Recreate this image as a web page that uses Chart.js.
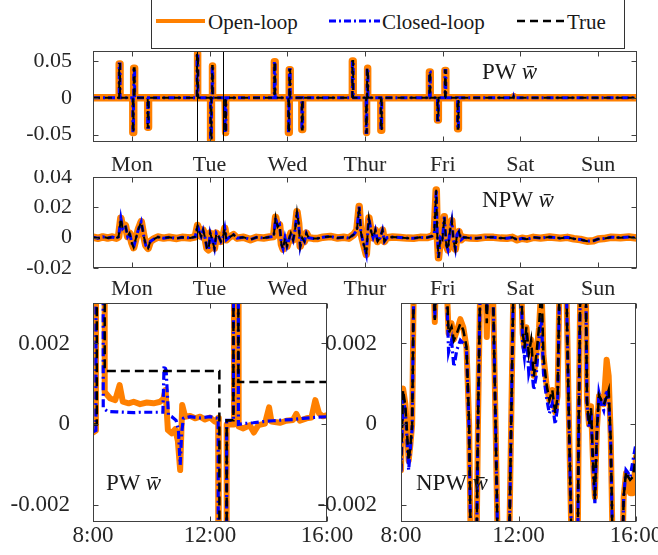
<!DOCTYPE html>
<html>
<head>
<meta charset="utf-8">
<script src="https://cdn.jsdelivr.net/npm/chart.js@4.4.1/dist/chart.umd.min.js"></script>
<style>
  body { margin: 0; background: #fff; }
  #fig { position: relative; width: 658px; height: 555px; overflow: hidden; background: #fff;
         font-family: "Liberation Serif", "Times New Roman", serif; color: #1a1a1a; }
  canvas { position: absolute; }
  .txt { position: absolute; white-space: nowrap; line-height: 1; }
  .leg { font-size: 21px; top: 12px; }
  .ann { font-size: 23px; }
  .ann i { font-style: italic; }
</style>
</head>
<body>
<div id="fig">
  <div style="position:absolute;left:151px;top:-5px;width:472px;height:52px;border:1px solid #333;background:#fff"></div>
  <svg style="position:absolute;left:0;top:0" width="658" height="50">
    <line x1="156" y1="21" x2="205" y2="21" stroke="#ff8000" stroke-width="4"/>
    <line x1="329" y1="21" x2="380" y2="21" stroke="#0000ff" stroke-width="3" stroke-dasharray="7 3 2 3"/>
    <line x1="517" y1="21" x2="565" y2="21" stroke="#000" stroke-width="2.5" stroke-dasharray="8 5"/>
  </svg>
  <span class="txt leg" style="left:208px">Open-loop</span>
  <span class="txt leg" style="left:382px">Closed-loop</span>
  <span class="txt leg" style="left:567px">True</span>

  <canvas id="weekPW" width="658" height="135" style="left:0;top:45px"></canvas>
  <canvas id="weekNPW" width="658" height="130" style="left:0;top:170px"></canvas>
  <canvas id="zoomPW" width="370" height="259" style="left:0;top:296px"></canvas>
  <canvas id="zoomNPW" width="368" height="259" style="left:290px;top:296px"></canvas>

  <span class="txt ann" style="left:482px;top:60px">PW <i>w̄</i></span>
  <span class="txt ann" style="left:482px;top:188px">NPW <i>w̄</i></span>
  <span class="txt ann" style="left:106px;top:471px">PW <i>w̄</i></span>
  <span class="txt ann" style="left:416px;top:471px">NPW <i>w̄</i></span>
</div>

<script>
// ---- axes ----
const dayTicks = [12, 36, 60, 84, 108, 132, 156];
const dayNames = ["Mon", "Tue", "Wed", "Thur", "Fri", "Sat", "Sun"];
const zoomWindow = [32, 40]; // Tue 8:00 - 16:00
const hourTicks = [8, 12, 16];
const hourNames = ["8:00", "12:00", "16:00"];
const pwWeekTicks = [-0.05, 0, 0.05];
const pwWeekTickNames = ["-0.05", "0", "0.05"];
const npwWeekTicks = [-0.02, 0, 0.02, 0.04];
const npwWeekTickNames = ["-0.02", "0", "0.02", "0.04"];
const zoomTicks = [-0.002, 0, 0.002];
const zoomTickNames = ["-0.002", "0", "0.002"];

// ---- week, PW (hour, value) ----
const pwWeek = [
  [0, 0], [8.1, 0], [8.1, 0.046], [8.35, 0.046], [8.35, 0],
  [12.3, 0], [12.3, -0.047], [12.5, -0.047], [12.5, 0], [12.6, 0], [12.6, 0.040], [12.85, 0.040], [12.85, 0],
  [16.9, 0], [16.9, -0.040], [17.15, -0.040], [17.15, 0],
  [32.13, 0], [32.13, 0.060], [32.4, 0.060], [32.4, 0],
  [36.32, 0], [36.32, -0.057], [36.57, -0.057], [36.57, 0], [36.8, 0], [36.8, 0.043], [36.97, 0.043], [36.97, 0],
  [40.8, 0], [40.8, -0.047], [41.05, -0.047], [41.05, 0],
  [56.0, 0], [56.0, 0.049], [56.25, 0.049], [56.25, 0],
  [60.35, 0], [60.35, -0.047], [60.55, -0.047], [60.55, 0], [60.65, 0], [60.65, 0.038], [60.9, 0.038], [60.9, 0],
  [64.5, 0], [64.5, -0.043], [64.75, -0.043], [64.75, 0],
  [80.1, 0], [80.1, 0.050], [80.35, 0.050], [80.35, 0],
  [84.35, 0], [84.35, -0.047], [84.55, -0.047], [84.55, 0], [84.65, 0], [84.65, 0.040], [84.9, 0.040], [84.9, 0],
  [88.9, 0], [88.9, -0.044], [89.15, -0.044], [89.15, 0],
  [103.9, 0], [103.9, 0.035], [104.15, 0.035], [104.15, 0],
  [106.4, 0], [106.4, -0.030], [106.65, -0.030], [106.65, 0],
  [108.7, 0], [108.7, 0.037], [108.95, 0.037], [108.95, 0],
  [112.6, 0], [112.6, -0.042], [112.85, -0.042], [112.85, 0],
  [129.8, 0], [129.9, 0.0015], [130.0, 0],
  [168, 0]
];

// ---- week, NPW (hour, value) ----
const npwWeek = [
  [0, 0.0003], [1.5, -0.0004], [3, 0.0005], [4.5, -0.0002], [6, 0.0004], [7.2, -0.0003], [7.9, 0.0005],
  [8.6, 0.0128], [9.15, 0.006], [10.0, 0.008], [10.7, 0.0008], [11.3, 0.003], [12.0, -0.0035], [12.55, -0.0065],
  [13.3, 0.0], [14.1, 0.006], [14.9, 0.0105], [15.6, 0.002], [16.3, -0.005], [17.0, -0.007], [17.7, -0.0025],
  [18.7, -0.001], [20, 0.0004], [21.8, -0.0003], [23.5, 0.0003], [25.9, -0.0005], [27.5, 0.0002], [30.1, -0.0002],
  [31.6, 0.0006], [32.3, 0.008], [32.8, 0.004], [33.4, 0.0008], [34.0, 0.005], [34.6, 0.0], [35.2, -0.007],
  [35.7, -0.008], [36.2, 0.003], [36.8, -0.0013], [37.5, -0.007], [38.1, 0.003], [38.8, 0.0008], [39.5, -0.0025],
  [40.1, 0.0], [40.7, 0.0062], [41.2, -0.0014], [41.9, 0.0], [43.4, 0.002], [44.5, -0.0003], [46.5, 0.0003],
  [48.6, -0.0013], [50.5, 0.0002], [52.7, -0.0002], [54.5, 0.0004], [55.8, 0.0008], [56.4, 0.0135], [57.0, 0.007],
  [57.6, 0.0085], [58.2, -0.0045], [58.7, -0.0075], [59.3, 0.0], [59.9, -0.0057], [60.5, -0.0014], [61.1, 0.003],
  [61.8, -0.0015], [62.4, 0.005], [63.0, 0.017], [63.5, 0.0095], [64.0, -0.0057], [64.6, 0.0], [65.3, -0.0025],
  [65.9, 0.003], [66.6, 0.0], [68, -0.0005], [69.2, -0.0006], [71, 0.0003], [73.3, 0.0008], [75.5, -0.0002],
  [77.4, 0.0003], [79, -0.0003], [80.5, 0.002], [81.5, 0.005], [82.2, 0.0205], [82.7, 0.004], [83.2, -0.001],
  [83.8, -0.006], [84.4, -0.011], [84.8, 0.002], [85.2, 0.013], [85.9, 0.004], [86.5, 0.0], [87.2, 0.005],
  [87.9, -0.0025], [88.7, 0.0], [89.4, 0.005], [90.0, -0.0025], [90.8, 0.0], [92.5, 0.0004], [94.9, 0.0001],
  [97, -0.0003], [99, -0.0004], [101, 0.0002], [103.2, 0.0001], [104.7, 0.001], [105.4, 0.003], [106.0, 0.0315],
  [106.3, 0.003], [106.7, -0.0133], [107.3, 0.0], [107.9, -0.0014], [108.5, 0.0138], [109.1, -0.0047],
  [109.6, -0.008], [110.2, 0.004], [110.8, 0.0112], [111.3, -0.0014], [111.9, -0.0075], [112.4, 0.002],
  [113.0, 0.004], [113.7, -0.0014], [114.5, 0.0002], [116.5, -0.0003], [118.6, -0.0004], [121, 0.0003],
  [123.7, 0.0002], [126, -0.0003], [127.9, -0.0004], [129.5, 0.0002], [131, -0.0014], [132.5, -0.0004],
  [134, -0.001], [136, 0.0002], [138.2, -0.0003], [141, 0.0004], [144.3, -0.0003], [146.5, 0.0002],
  [148.5, -0.0007], [150.5, -0.0012], [152.6, -0.0023], [154.6, -0.002], [156, -0.0009], [157.7, -0.0006],
  [160, 0.0003], [162.9, 0.0], [165.5, 0.0004], [168, -0.0003]
];

// ---- Tuesday 8:00-16:00, PW (hour, value) ----
const pwZoomTrue = [
  [8.0, 0], [8.13, 0], [8.13, 0.06], [8.4, 0.06], [8.4, 0.00132], [12.32, 0.00132], [12.32, -0.057],
  [12.57, -0.057], [12.57, 0.0001], [12.8, 0.0001], [12.8, 0.043], [12.97, 0.043], [12.97, 0.00105], [16.0, 0.00105]
];
const pwZoomClosed = [
  [8.0, -0.00018], [8.1, -0.00015], [8.15, 0.06], [8.33, 0.06], [8.35, 0.0004], [8.5, 0.00032], [8.8, 0.00031],
  [9.39, 0.00029], [9.6, 0.0003], [9.95, 0.0003], [10.39, 0.0003], [10.43, 0.00146], [10.5, 0.00134],
  [10.58, 0.00023], [10.69, 0.00019], [10.84, 0.0001], [10.92, -0.00014], [10.98, -0.001], [11.03, -0.00022],
  [11.09, 0.00015], [11.32, 0.00019], [11.66, 0.00016], [12.0, 0.00019], [12.28, 0.00015], [12.3, -0.057],
  [12.55, -0.057], [12.57, 0.0001], [12.8, 0.0001], [12.82, 0.043], [12.95, 0.043], [12.97, 0.0],
  [13.14, 0.00002], [13.48, 0.00004], [13.82, 0.00007], [14.16, 0.00009], [14.5, 0.00011], [14.84, 0.00012],
  [15.18, 0.00015], [15.52, 0.00017], [16.0, 0.00019]
];
const pwZoomOpen = [
  [8.0, -0.0002], [8.1, -0.00015], [8.15, 0.06], [8.38, 0.06], [8.4, 0.0008], [8.59, 0.00064], [8.76, 0.0006],
  [8.91, 0.00097], [9.02, 0.00056], [9.22, 0.00052], [9.39, 0.00056], [9.61, 0.0005], [9.84, 0.00054],
  [10.07, 0.00052], [10.3, 0.00056], [10.41, 0.00064], [10.48, 0.00085], [10.56, -0.00014], [10.69, -0.00022],
  [10.81, -0.00012], [10.9, -0.0004], [10.98, -0.00113], [11.05, 0.00048], [11.15, 0.00019], [11.32, 0.00021],
  [11.49, 0.00015], [11.66, 0.00019], [11.83, 0.00012], [12.0, 0.00017], [12.17, 0.00007], [12.28, 0.00016],
  [12.3, -0.057], [12.55, -0.057], [12.57, 0.0], [12.8, 0.0], [12.82, 0.043], [12.95, 0.043], [12.98, -0.00005],
  [13.14, -0.0001], [13.36, -0.00002], [13.5, -0.0002], [13.65, -0.00002], [13.88, 0.00002], [14.02, 0.00042],
  [14.1, 0.00007], [14.39, 0.00004], [14.61, 0.00009], [14.84, 0.00011], [14.95, 0.00026], [15.07, 0.00009],
  [15.3, 0.00015], [15.47, 0.00017], [15.6, 0.0006], [15.73, 0.00027], [15.86, 0.0002], [16.0, 0.00023]
];

// ---- Tuesday 8:00-16:00, NPW (hour, value) ----
const npwZoomTrue = [
  [8.0, -0.00113], [8.07, 0.00085], [8.15, 0.00044], [8.2, -0.00014], [8.26, -0.0009], [8.32, -0.00055],
  [8.38, 0.0], [8.45, 0.0045], [9.08, 0.0045], [9.15, 0.00258], [9.22, 0.0045], [9.5, 0.0045], [9.62, 0.00225],
  [9.72, 0.00241], [9.8, 0.00208], [9.9, 0.00225], [10.02, 0.00249], [10.12, 0.00233], [10.23, 0.00192],
  [10.32, 0.0], [10.4, -0.0045], [10.55, -0.0045], [10.62, 0.0], [10.72, 0.0045], [10.85, 0.0045],
  [10.92, 0.0025], [11.0, 0.0045], [11.1, 0.0045], [11.22, 0.0], [11.33, -0.0045], [11.65, -0.0045],
  [11.75, 0.0], [11.85, 0.0045], [12.05, 0.0045], [12.14, 0.00233], [12.2, 0.00188], [12.27, 0.00241],
  [12.35, 0.00175], [12.43, 0.00208], [12.52, 0.00118], [12.6, 0.00167], [12.7, 0.00241], [12.78, 0.0035],
  [12.85, 0.00167], [12.95, 0.00101], [13.05, 0.0006], [13.15, 0.00085], [13.25, 0.00027], [13.33, 0.00068],
  [13.42, 0.0045], [13.6, 0.0045], [13.72, 0.0], [13.85, -0.0045], [14.0, -0.0045], [14.05, 0.0],
  [14.12, 0.0045], [14.28, 0.0045], [14.33, 0.0006], [14.4, 0.0], [14.47, 0.0004], [14.53, -0.0008],
  [14.6, -0.00187], [14.67, -0.00014], [14.74, 0.00072], [14.82, 0.0006], [14.9, 0.00048], [15.0, 0.00068],
  [15.07, 0.00085], [15.14, -0.00039], [15.24, -0.0045], [15.5, -0.0045], [15.58, -0.00179], [15.66, -0.00117],
  [15.73, -0.00129], [15.8, -0.00137], [15.9, -0.00129], [16.0, -0.00072]
];
const npwZoomClosed = [
  [8.0, -0.00117], [8.07, 0.0007], [8.15, 0.0003], [8.2, -0.0003], [8.26, -0.00113], [8.32, -0.0006],
  [8.38, -0.0001], [8.45, 0.0045], [9.08, 0.0045], [9.15, 0.0026], [9.22, 0.0045], [9.5, 0.0045], [9.62, 0.00179],
  [9.72, 0.00208], [9.8, 0.00142], [9.9, 0.00184], [10.02, 0.00208], [10.12, 0.002], [10.23, 0.00188],
  [10.32, -0.0002], [10.4, -0.0045], [10.55, -0.0045], [10.62, 0.0], [10.72, 0.0045], [10.85, 0.0045],
  [10.92, 0.0028], [11.0, 0.0045], [11.1, 0.0045], [11.22, 0.0], [11.33, -0.0045], [11.65, -0.0045],
  [11.75, 0.0], [11.85, 0.0045], [12.05, 0.0045], [12.14, 0.002], [12.2, 0.00167], [12.27, 0.00225],
  [12.35, 0.00126], [12.43, 0.00151], [12.52, 0.00085], [12.6, 0.00118], [12.7, 0.00216], [12.78, 0.00266],
  [12.85, 0.00126], [12.95, 0.00068], [13.05, 0.00027], [13.15, 0.00052], [13.25, 0.0], [13.33, 0.00044],
  [13.42, 0.0045], [13.6, 0.0045], [13.72, 0.0], [13.85, -0.0045], [14.0, -0.0045], [14.05, 0.0],
  [14.12, 0.0045], [14.28, 0.0045], [14.33, 0.00052], [14.4, -0.0001], [14.47, 0.0003], [14.53, -0.0009],
  [14.6, -0.00195], [14.67, -0.0002], [14.74, 0.00077], [14.82, 0.0005], [14.9, 0.00035], [15.0, 0.00085],
  [15.07, 0.0006], [15.14, -0.0005], [15.24, -0.0045], [15.5, -0.0045], [15.58, -0.0018], [15.66, -0.00113],
  [15.73, -0.0012], [15.8, -0.0013], [15.9, -0.00088], [16.0, -0.00047]
];
const npwZoomOpen = [
  [8.0, -0.00113], [8.07, 0.00089], [8.15, 0.0005], [8.2, -0.0001], [8.26, -0.0009], [8.32, -0.0005],
  [8.38, 0.0], [8.45, 0.0045], [9.08, 0.0045], [9.15, 0.00253], [9.22, 0.0045], [9.5, 0.0045], [9.62, 0.00225],
  [9.72, 0.0025], [9.8, 0.0021], [9.9, 0.0023], [10.02, 0.0026], [10.12, 0.0024], [10.23, 0.0019],
  [10.32, 0.0], [10.4, -0.0045], [10.55, -0.0045], [10.62, 0.0], [10.72, 0.0045], [10.85, 0.0045],
  [10.92, 0.00216], [11.0, 0.0045], [11.1, 0.0045], [11.22, 0.0], [11.33, -0.0045], [11.65, -0.0045],
  [11.75, 0.0], [11.85, 0.0045], [12.05, 0.0045], [12.14, 0.00225], [12.2, 0.0019], [12.27, 0.0024],
  [12.35, 0.0018], [12.43, 0.0021], [12.52, 0.0012], [12.6, 0.0017], [12.7, 0.0024], [12.78, 0.0035],
  [12.85, 0.0017], [12.95, 0.001], [13.05, 0.0006], [13.15, 0.00085], [13.25, 0.0003], [13.33, 0.0007],
  [13.42, 0.0045], [13.6, 0.0045], [13.72, 0.0], [13.85, -0.0045], [14.0, -0.0045], [14.05, 0.0],
  [14.12, 0.0045], [14.28, 0.0045], [14.33, 0.0006], [14.4, 0.0], [14.47, 0.00045], [14.53, -0.0008],
  [14.6, -0.0018], [14.67, -0.0001], [14.74, 0.0007], [14.82, 0.0006], [14.9, 0.0005], [15.0, 0.0016],
  [15.07, 0.0012], [15.14, -0.0003], [15.24, -0.0045], [15.5, -0.0045], [15.58, -0.0018], [15.66, -0.0012],
  [15.73, -0.00146], [15.8, -0.0017], [15.9, -0.0017], [16.0, -0.0008]
];

Chart.defaults.font.family = "'Liberation Serif', 'Times New Roman', serif";
Chart.defaults.color = "#262626";

const ORANGE = "#ff8000", BLUE = "#0000ff", BLACK = "#000000";

// caja estilo MATLAB: marco, ticks hacia dentro y líneas de la ventana
const boxPlugin = {
  id: "box",
  beforeDraw(chart, args, o) {
    if (!o.fill) return;
    const a = chart.chartArea, ctx = chart.ctx;
    ctx.save();
    ctx.fillStyle = "#fff";
    ctx.fillRect(a.left, a.top, a.right - a.left, a.bottom - a.top);
    ctx.restore();
  },
  afterDatasetsDraw(chart, args, o) {
    const { ctx, chartArea: a, scales: { x, y } } = chart;
    const L = 5;
    const seg = (x1, y1, x2, y2) => { ctx.beginPath(); ctx.moveTo(x1, y1); ctx.lineTo(x2, y2); ctx.stroke(); };
    ctx.save();
    ctx.lineWidth = 1;
    ctx.strokeStyle = BLACK;
    (o.marks || []).forEach(h => {
      const px = Math.round(x.getPixelForValue(h)) + 0.5;
      seg(px, a.top, px, a.bottom);
    });
    ctx.strokeStyle = "#404040";
    const l = Math.round(a.left) + 0.5, r = Math.round(a.right) - 0.5;
    const t = Math.round(a.top) + 0.5, b = Math.round(a.bottom) - 0.5;
    ctx.strokeRect(l, t, r - l, b - t);
    x.ticks.forEach(tk => {
      const px = Math.round(x.getPixelForValue(tk.value)) + 0.5;
      seg(px, b, px, b - L);
      seg(px, t, px, t + L);
    });
    y.ticks.forEach(tk => {
      const py = Math.round(y.getPixelForValue(tk.value)) + 0.5;
      seg(l, py, l + L, py);
      seg(r, py, r - L, py);
    });
    ctx.restore();
  }
};

function pts(list) { return list.map(p => ({ x: p[0], y: p[1] })); }

function series(trueData, closedData, openData, w) {
  return [
    { label: "True", data: pts(trueData), borderColor: BLACK, borderWidth: w.black, borderDash: w.blackDash },
    { label: "Closed-loop", data: pts(closedData), borderColor: BLUE, borderWidth: w.blue, borderDash: w.blueDash },
    { label: "Open-loop", data: pts(openData), borderColor: ORANGE, borderWidth: w.orange,
      borderCapStyle: "round", borderJoinStyle: "round" }
  ];
}

function makeChart(id, cfg) {
  new Chart(document.getElementById(id), {
    type: "line",
    data: { datasets: cfg.datasets },
    plugins: [boxPlugin],
    options: {
      responsive: false,
      animation: false,
      events: [],
      layout: { padding: { top: cfg.padTop, right: cfg.padRight, left: 0, bottom: 0 } },
      elements: { point: { radius: 0 }, line: { tension: 0 } },
      plugins: {
        legend: { display: false },
        tooltip: { enabled: false },
        box: { marks: cfg.marks, fill: cfg.fill }
      },
      scales: {
        x: {
          type: "linear", min: cfg.xMin, max: cfg.xMax,
          grid: { display: false, drawTicks: false }, border: { display: false },
          afterBuildTicks: s => { s.ticks = cfg.xTicks.map(v => ({ value: v })); },
          afterFit: s => { s.height = cfg.xAxisH; s.paddingLeft = 0; s.paddingRight = 0; },
          ticks: { autoSkip: false, maxRotation: 0, padding: cfg.xPad, font: { size: cfg.fontSize },
                   callback: (v, i) => cfg.xNames[i] }
        },
        y: {
          type: "linear", min: cfg.yMin, max: cfg.yMax,
          grid: { display: false, drawTicks: false }, border: { display: false },
          afterBuildTicks: s => { s.ticks = cfg.yTicks.map(v => ({ value: v })); },
          afterFit: s => { s.width = cfg.yAxisW; s.paddingTop = 0; s.paddingBottom = 0; },
          ticks: { autoSkip: false, padding: cfg.yPad, font: { size: cfg.fontSize },
                   callback: (v, i) => cfg.yNames[i] }
        }
      }
    }
  });
}

const weekStyle = { black: 2, blackDash: [7, 5], blue: 3, blueDash: [7, 3, 2, 3], orange: 7.5 };
const zoomStyle = { black: 2.5, blackDash: [9, 5], blue: 3.2, blueDash: [8, 3.5, 2, 3.5], orange: 6 };

makeChart("weekPW", {
  datasets: series(pwWeek, pwWeek, pwWeek, weekStyle),
  xMin: 0, xMax: 168, xTicks: dayTicks, xNames: dayNames,
  yMin: -0.06, yMax: 0.0635, yTicks: pwWeekTicks, yNames: pwWeekTickNames,
  padTop: 6, padRight: 21, xAxisH: 38, yAxisW: 93, xPad: 10, yPad: 21, fontSize: 22,
  marks: zoomWindow, fill: false
});

makeChart("weekNPW", {
  datasets: series(npwWeek, npwWeek, npwWeek, weekStyle),
  xMin: 0, xMax: 168, xTicks: dayTicks, xNames: dayNames,
  yMin: -0.02, yMax: 0.04, yTicks: npwWeekTicks, yNames: npwWeekTickNames,
  padTop: 7, padRight: 21, xAxisH: 32, yAxisW: 93, xPad: 8, yPad: 21, fontSize: 22,
  marks: zoomWindow, fill: false
});

makeChart("zoomPW", {
  datasets: series(pwZoomTrue, pwZoomClosed, pwZoomOpen, zoomStyle),
  xMin: 8, xMax: 16, xTicks: hourTicks, xNames: hourNames,
  yMin: -0.0024, yMax: 0.003, yTicks: zoomTicks, yNames: zoomTickNames,
  padTop: 7, padRight: 43, xAxisH: 33.5, yAxisW: 93, xPad: 1, yPad: 23, fontSize: 23,
  marks: [], fill: true
});

makeChart("zoomNPW", {
  datasets: series(npwZoomTrue, npwZoomClosed, npwZoomOpen, zoomStyle),
  xMin: 8, xMax: 16, xTicks: hourTicks, xNames: hourNames,
  yMin: -0.0024, yMax: 0.003, yTicks: zoomTicks, yNames: zoomTickNames,
  padTop: 7, padRight: 22, xAxisH: 33.5, yAxisW: 111, xPad: 1, yPad: 24, fontSize: 23,
  marks: [], fill: true
});
</script>
</body>
</html>
